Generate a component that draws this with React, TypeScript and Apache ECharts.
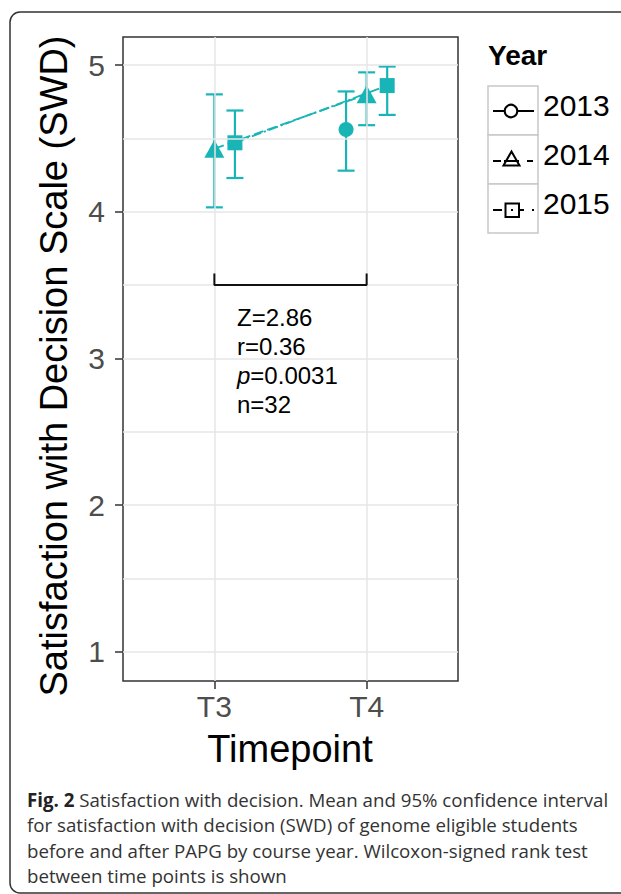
import React, { useEffect, useRef } from "react";
import * as echarts from "echarts";

// ---- data ----
const timepoints = ["T3", "T4"];
const years = ["2013", "2014", "2015"];
const mean2013 = [null, 4.56];
const low2013 = [null, 4.28];
const high2013 = [null, 4.82];
const mean2014 = [4.43, 4.80];
const low2014 = [4.03, 4.59];
const high2014 = [4.80, 4.95];
const mean2015 = [4.47, 4.86];
const low2015 = [4.23, 4.66];
const high2015 = [4.69, 4.99];
const yTicks = [1, 2, 3, 4, 5];
const yGrid = [1, 1.5, 2, 2.5, 3, 3.5, 4, 4.5, 5];
const bracketTimepoints = ["T3", "T4"];
const bracketLevels = [3.5, 3.58];
const statLines = ["Z=2.86", "r=0.36", "p=0.0031", "n=32"];
const captionLines = [
  "Satisfaction with decision. Mean and 95% confidence interval",
  "for satisfaction with decision (SWD) of genome eligible students",
  "before and after PAPG by course year. Wilcoxon-signed rank test",
  "between time points is shown",
];

const TEAL = "#19b5b6";
const DODGE = 0.135;
const dodgeFor = [-DODGE, 0, DODGE];

function xPos(tIdx: number, yIdx: number) {
  return tIdx + 1 + dodgeFor[yIdx];
}

export default function App() {
  const ref = useRef<HTMLDivElement>(null);
  useEffect(() => {
    if (!ref.current) return;
    const chart = echarts.init(ref.current, null, { renderer: "svg" });
    const means = [mean2013, mean2014, mean2015];
    const lows = [low2013, low2014, low2015];
    const highs = [high2013, high2014, high2015];

    const errData: any[] = [];
    years.forEach((_, yi) => {
      timepoints.forEach((_, ti) => {
        if (means[yi][ti] != null) errData.push([xPos(ti, yi), lows[yi][ti], highs[yi][ti]]);
      });
    });

    const lineData = (yi: number) =>
      timepoints
        .map((_, ti) => (means[yi][ti] != null ? [xPos(ti, yi), means[yi][ti]] : null))
        .filter((d) => d);

    const b0 = timepoints.indexOf(bracketTimepoints[0]) + 1;
    const b1 = timepoints.indexOf(bracketTimepoints[1]) + 1;
    const bracketData = [
      [b0, bracketLevels[1]],
      [b0, bracketLevels[0]],
      [b1, bracketLevels[0]],
      [b1, bracketLevels[1]],
    ];

    const font = "Liberation Sans";
    const symbols = ["circle", "triangle", "rect"];
    const sizes: any[] = [15, [20, 18], 15];
    const dashes: any[] = ["solid", [10, 4], [10, 3, 2, 3]];

    const option: any = {
      animation: false,
      backgroundColor: "#ffffff",
      grid: {
        left: 123,
        top: 37,
        width: 335,
        height: 644,
        show: true,
        borderColor: "#333333",
        borderWidth: 1.5,
        backgroundColor: "#ffffff",
        containLabel: false,
      },
      xAxis: {
        type: "value",
        min: 0.4,
        max: 2.6,
        axisLine: { show: false },
        splitLine: { show: false },
        axisTick: {
          show: true,
          length: 8,
          lineStyle: { color: "#333333", width: 1.5 },
          customValues: timepoints.map((_, i) => i + 1),
        },
        axisLabel: {
          customValues: timepoints.map((_, i) => i + 1),
          formatter: (v: number) => timepoints[Math.round(v) - 1] ?? "",
          color: "#4d4d4d",
          fontSize: 30,
          fontFamily: font,
          margin: 10,
        },
      },
      yAxis: {
        type: "value",
        min: 0.802,
        max: 5.191,
        axisLine: { show: false },
        splitLine: { show: false },
        axisTick: {
          show: true,
          length: 8,
          lineStyle: { color: "#333333", width: 1.5 },
          customValues: yTicks,
        },
        axisLabel: {
          customValues: yTicks,
          color: "#4d4d4d",
          fontSize: 30,
          fontFamily: font,
          margin: 18,
        },
      },
      series: [
        {
          type: "line",
          data: [],
          silent: true,
          markLine: {
            silent: true,
            symbol: "none",
            label: { show: false },
            lineStyle: { color: "#e6e6e6", width: 1.5, type: "solid" },
            data: [
              ...yGrid.map((v) => ({ yAxis: v })),
              ...timepoints.map((_, i) => ({ xAxis: i + 1 })),
            ],
          },
          z: 1,
        },
        {
          type: "custom",
          z: 3,
          renderItem: (params: any, api: any) => {
            const x = api.value(0);
            const lo = api.coord([x, api.value(1)]);
            const hi = api.coord([x, api.value(2)]);
            const hw = 8.5;
            const style = { stroke: TEAL, lineWidth: 2.2 };
            return {
              type: "group",
              children: [
                { type: "line", shape: { x1: lo[0], y1: lo[1], x2: hi[0], y2: hi[1] }, style },
                { type: "line", shape: { x1: lo[0] - hw, y1: lo[1], x2: lo[0] + hw, y2: lo[1] }, style },
                { type: "line", shape: { x1: hi[0] - hw, y1: hi[1], x2: hi[0] + hw, y2: hi[1] }, style },
              ],
            };
          },
          data: errData,
        },
        ...years.map((yr, yi) => ({
          name: yr,
          type: "line",
          z: 4,
          data: lineData(yi),
          symbol: symbols[yi],
          symbolSize: sizes[yi],
          showSymbol: true,
          itemStyle: { color: TEAL, opacity: 1 },
          lineStyle: { color: TEAL, width: 1.8, type: dashes[yi] },
        })),
        {
          type: "line",
          z: 5,
          data: bracketData,
          symbol: "none",
          lineStyle: { color: "#111111", width: 2 },
        },
      ],
      graphic: [
        {
          type: "rect",
          shape: { x: 10, y: 12, width: 640, height: 881, r: 10 },
          style: { fill: "none", stroke: "#333333", lineWidth: 1.5 },
          silent: true,
          z: 100,
        },
        {
          type: "text",
          x: 54,
          y: 366,
          rotation: Math.PI / 2,
          style: {
            text: "Satisfaction with Decision Scale (SWD)",
            font: `38px "${font}"`,
            fill: "#000000",
            align: "center",
            verticalAlign: "middle",
          },
        },
        {
          type: "text",
          x: 290,
          y: 749,
          style: {
            text: "Timepoint",
            font: `38px "${font}"`,
            fill: "#000000",
            align: "center",
            verticalAlign: "middle",
          },
        },
        {
          type: "text",
          x: 237,
          y: 303,
          style: {
            text: statLines
              .map((l) => (l.startsWith("p=") ? "{i|p}{n|" + l.slice(1) + "}" : "{n|" + l + "}"))
              .join("\n"),
            rich: {
              n: { fontFamily: font, fontSize: 24, fill: "#000000", lineHeight: 29 },
              i: { fontFamily: font, fontSize: 24, fontStyle: "italic", fill: "#000000", lineHeight: 29 },
            },
            align: "left",
            verticalAlign: "top",
          },
        },
        // legend
        {
          type: "text",
          x: 488,
          y: 55,
          style: {
            text: "Year",
            font: `bold 28px "${font}"`,
            fill: "#000000",
            align: "left",
            verticalAlign: "middle",
          },
        },
        ...years.map((yr, i) => ({
          type: "rect",
          shape: { x: 488, y: 86 + i * 49, width: 50, height: 49 },
          style: { fill: "#ffffff", stroke: "#c8c8c8", lineWidth: 1.5 },
        })),
        ...years.map((yr, i) => ({
          type: "text",
          x: 543,
          y: 105 + i * 49,
          style: {
            text: yr,
            font: `30px "${font}"`,
            fill: "#000000",
            align: "left",
            verticalAlign: "middle",
          },
        })),
        // key 2013
        { type: "line", shape: { x1: 493, y1: 111, x2: 534, y2: 111 }, style: { stroke: "#000", lineWidth: 2 } },
        { type: "circle", shape: { cx: 511, cy: 111, r: 6.3 }, style: { fill: "#fff", stroke: "#000", lineWidth: 2 } },
        // key 2014
        { type: "line", shape: { x1: 493, y1: 161, x2: 501, y2: 161 }, style: { stroke: "#000", lineWidth: 2 } },
        { type: "line", shape: { x1: 527, y1: 161, x2: 533, y2: 161 }, style: { stroke: "#000", lineWidth: 2 } },
        {
          type: "polygon",
          shape: { points: [[511.5, 151.5], [503.5, 165.5], [519.5, 165.5]] },
          style: { fill: "#fff", stroke: "#000", lineWidth: 2 },
        },
        { type: "line", shape: { x1: 504, y1: 161, x2: 519, y2: 161 }, style: { stroke: "#000", lineWidth: 2 } },
        // key 2015
        { type: "line", shape: { x1: 493, y1: 210, x2: 502, y2: 210 }, style: { stroke: "#000", lineWidth: 2 } },
        { type: "rect", shape: { x: 505.5, y: 203.5, width: 13.5, height: 13.5 }, style: { fill: "#fff", stroke: "#000", lineWidth: 2 } },
        { type: "line", shape: { x1: 511, y1: 210, x2: 513, y2: 210 }, style: { stroke: "#000", lineWidth: 2 } },
        { type: "line", shape: { x1: 519, y1: 210, x2: 524, y2: 210 }, style: { stroke: "#000", lineWidth: 2 } },
        { type: "line", shape: { x1: 532, y1: 210, x2: 534, y2: 210 }, style: { stroke: "#000", lineWidth: 2 } },
        // caption
        {
          type: "text",
          x: 27,
          y: 787,
          style: {
            text: "{b|Fig. 2}{n| " + captionLines[0] + "}\n" + captionLines.slice(1).map((l) => "{n|" + l + "}").join("\n"),
            rich: {
              b: { fontFamily: "Open Sans", fontWeight: "bold", fontSize: 18.7, fill: "#222222", lineHeight: 25.3 },
              n: { fontFamily: "Open Sans", fontSize: 18.7, fill: "#333333", lineHeight: 25.3 },
            },
            align: "left",
            verticalAlign: "top",
          },
        },
      ],
    };
    chart.setOption(option);
    return () => chart.dispose();
  }, []);
  return (
    <div
      ref={ref}
      style={{ position: "fixed", left: 0, top: 0, width: 621, height: 894, background: "#fff" }}
    />
  );
}
